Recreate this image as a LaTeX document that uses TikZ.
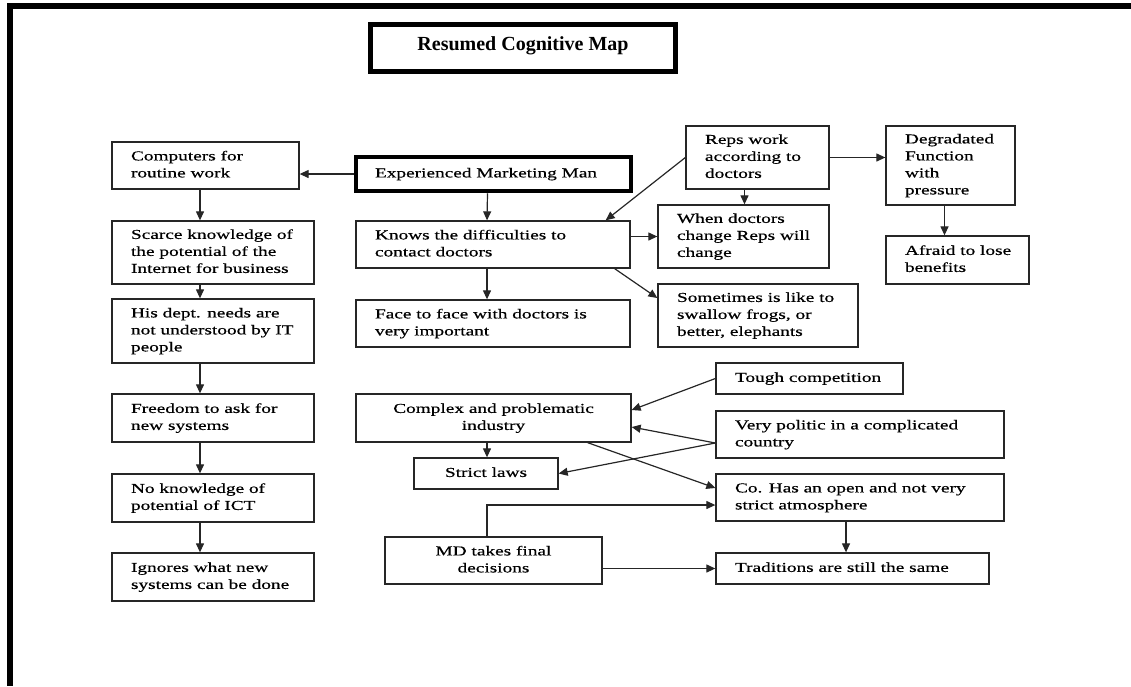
\documentclass[tikz,border=0pt]{standalone}
\usepackage{fontspec}
\setmainfont{Liberation Serif}[FakeStretch=1.42,FakeBold=0.5]
\newfontfamily\titlefont{Liberation Serif}
\usetikzlibrary{arrows.meta}

% box with left-aligned lines, indented from the left edge
\newcommand{\lbox}[7][]{%
  \pgfmathsetmacro\bxw{#5-#3}%
  \pgfmathsetmacro\bxh{#6-#4}%
  \node[box,minimum width=\bxw pt,minimum height=\bxh pt,#1]
    (#2) at ({(#3+#5)/2},{(#4+#6)/2})
    {\makebox[\bxw pt][l]{\hspace{19pt}\begin{tabular}{@{}l@{}}#7\end{tabular}}};}
% box with centred lines
\newcommand{\cbox}[7][]{%
  \pgfmathsetmacro\bxw{#5-#3}%
  \pgfmathsetmacro\bxh{#6-#4}%
  \node[box,minimum width=\bxw pt,minimum height=\bxh pt,#1]
    (#2) at ({(#3+#5)/2},{(#4+#6)/2})
    {\begin{tabular}{@{}c@{}}#7\end{tabular}};}

\begin{document}
\begin{tikzpicture}[x=1pt,y=-1pt,
  box/.style={draw=black!85,line width=1.3pt,fill=white,inner sep=0pt,
    font=\fontsize{13.6}{17}\selectfont},
  heavy/.style={line width=4.5pt,draw=black},
  arr/.style={draw=black!85,line width=1.2pt,-{Triangle[length=9pt,width=8pt]}}]
\useasboundingbox (0,0) rectangle (1131,686);

% page frame (top and left rules)
\fill[black] (7,3) rectangle (1131,9);
\fill[black] (7,3) rectangle (13,686);

% title
\node[draw=black,line width=5pt,minimum width=305pt,minimum height=47pt,inner sep=0pt] (title) at (523,48) {};
\node[anchor=base,inner sep=0pt,font=\titlefont\bfseries\fontsize{20}{22}\selectfont] (titletext) at (523,50) {Resumed Cognitive Map};

% left column
\coordinate (colx) at (200,0);
\lbox{comp}{112}{142}{299}{189}{Computers for\\routine work}
\lbox{scarce}{112}{221}{314}{284}{Scarce knowledge of\\the potential of the\\Internet for business}
\lbox{dept}{112}{299}{314}{363}{His dept. needs are\\not understood by IT\\people}
\lbox{freedom}{112}{394}{314}{442}{Freedom to ask for\\new systems}
\lbox{noknow}{112}{474}{314}{522}{No knowledge of\\potential of ICT}
\lbox{ignores}{112}{553}{314}{601}{Ignores what new\\systems can be done}

% middle column
\lbox[heavy]{emm}{356}{157}{631}{191}{Experienced Marketing Man}
\lbox{knows}{356}{221}{630}{268}{Knows the difficulties to\\contact doctors}
\lbox{face}{356}{300}{630}{347}{Face to face with doctors is\\very important}

% upper right
\lbox{reps}{686}{126}{829}{189}{Reps work\\according to\\doctors}
\lbox{when}{658}{205}{829}{268}{When doctors\\change Reps will\\change}
\lbox{sometimes}{658}{284}{858}{347}{Sometimes is like to\\swallow frogs, or\\better, elephants}
\lbox{degr}{886}{126}{1015}{205}{Degradated\\Function\\with\\pressure}
\lbox{afraid}{886}{236}{1029}{284}{Afraid to lose\\benefits}

% lower part
\lbox{tough}{716}{363}{903}{394}{Tough competition}
\cbox{complex}{356}{394}{631}{442}{Complex and problematic\\industry}
\lbox{politic}{716}{411}{1004}{458}{Very politic in a complicated\\country}
\cbox{laws}{414}{458}{558}{489}{Strict laws}
\lbox{cohas}{716}{474}{1004}{521}{Co. Has an open and not very\\strict atmosphere}
\cbox{md}{385}{537}{602}{584}{MD takes final\\decisions}
\lbox{trad}{716}{553}{989}{584}{Traditions are still the same}

% connectors, left column
\draw[arr] (emm.west) -- (emm.west -| comp.east);
\draw[arr] (comp.south -| colx) -- (scarce.north -| colx);
\draw[arr] (scarce.south -| colx) -- (dept.north -| colx);
\draw[arr] (dept.south -| colx) -- (freedom.north -| colx);
\draw[arr] (freedom.south -| colx) -- (noknow.north -| colx);
\draw[arr] (noknow.south -| colx) -- (ignores.north -| colx);

% connectors, middle and upper right
\draw[arr] ([xshift=-6pt]emm.south) -- ([xshift=-6pt]knows.north);
\draw[arr] ([xshift=-6pt]knows.south) -- ([xshift=-6pt]face.north);
\draw[arr] (when.west -| knows.east) -- (when.west);
\draw[arr] ([xshift=-16pt]knows.south east) -- ([yshift=17.5pt]sometimes.west);
\draw[arr] (reps.west) -- ([xshift=-25pt]knows.north east);
\draw[arr] (reps.east) -- (reps.east -| degr.west);
\draw[arr] ([xshift=-13pt]reps.south) -- ([xshift=-13pt]reps.south |- when.north);
\draw[arr] ([xshift=-6pt]degr.south) -- ([xshift=-6pt]degr.south |- afraid.north);

% connectors, lower part
\draw[arr] ([xshift=-6.5pt]complex.south) -- ([xshift=-6.5pt]complex.south |- laws.north);
\draw[arr] (tough.west) -- ([yshift=8pt]complex.east);
\draw[arr] ([yshift=-8.5pt]politic.west) -- ([yshift=-9pt]complex.east);
\draw[arr] ([yshift=-8.5pt]politic.west) -- (laws.east);
\draw[arr] ([xshift=-44pt]complex.south east) -- ([yshift=9.5pt]cohas.west);
\draw[arr] ([xshift=-6.5pt]md.north) |- ([yshift=-7.5pt]cohas.west);
\draw[arr] (trad.west -| md.east) -- (trad.west);
\draw[arr] ([xshift=-14pt]cohas.south) -- ([xshift=-14pt]cohas.south |- trad.north);
\end{tikzpicture}
\end{document}
